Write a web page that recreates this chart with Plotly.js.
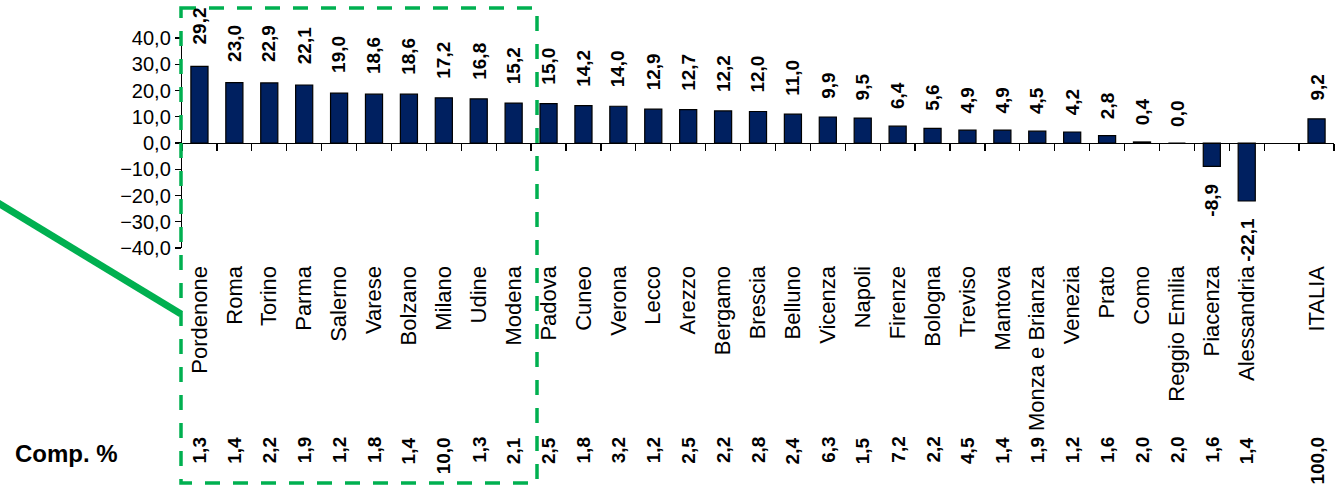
<!DOCTYPE html>
<html>
<head>
<meta charset="utf-8">
<script src="https://cdn.plot.ly/plotly-3.0.1.min.js"></script>
<style>html,body{margin:0;padding:0;background:#fff;}#chart{width:1336px;height:486px;}</style>
</head>
<body>
<div id="chart"></div>
<script>
// ---- data ----
const categories = ["Pordenone","Roma","Torino","Parma","Salerno","Varese","Bolzano","Milano","Udine","Modena",
  "Padova","Cuneo","Verona","Lecco","Arezzo","Bergamo","Brescia","Belluno","Vicenza","Napoli",
  "Firenze","Bologna","Treviso","Mantova","Monza e Brianza","Venezia","Prato","Como","Reggio Emilia","Piacenza",
  "Alessandria"," ","ITALIA"];
const variation = [29.2,23.0,22.9,22.1,19.0,18.6,18.6,17.2,16.8,15.2,
  15.0,14.2,14.0,12.9,12.7,12.2,12.0,11.0,9.9,9.5,
  6.4,5.6,4.9,4.9,4.5,4.2,2.8,0.4,0.0,-8.9,
  -22.1,null,9.2];
const composition = [1.3,1.4,2.2,1.9,1.2,1.8,1.4,10.0,1.3,2.1,
  2.5,1.8,3.2,1.2,2.5,2.2,2.8,2.4,6.3,1.5,
  7.2,2.2,4.5,1.4,1.9,1.2,1.6,2.0,2.0,1.6,
  1.4,null,100.0];
const yTickVals = [-40,-30,-20,-10,0,10,20,30,40];
const compLabel = "Comp. %";

// ---- layout geometry (pixels) ----
const W = 1336, H = 486;
const M = {l:182, r:2, t:38, b:238};
const PW = W - M.l - M.r, PH = H - M.t - M.b;
const px = x => (x - M.l) / PW;
const py = y => 1 - (y - M.t) / PH;
const fmt = v => v.toFixed(1).replace('.', ',');
const FONT = "Liberation Sans, Arial, sans-serif";
const GREEN = "#00b050";

const annotations = [];
categories.forEach((c, i) => {
  const v = variation[i];
  if (v !== null) {
    const neg = v < 0;
    annotations.push({
      x: c, y: v, xref: 'x', yref: 'y',
      text: fmt(v), showarrow: false, textangle: -90,
      xanchor: 'center', yanchor: neg ? 'top' : 'bottom',
      yshift: neg ? -15 : 14 + 0.2 * v,
      font: {family: FONT, size: 19, color: '#000', weight: 'bold'}
    });
  }
  const cp = composition[i];
  if (cp !== null) {
    annotations.push({
      x: c, y: py(435), xref: 'x', yref: 'paper',
      text: fmt(cp), showarrow: false, textangle: -90,
      xanchor: 'center', yanchor: 'top',
      font: {family: FONT, size: 19, color: '#000', weight: 'bold'}
    });
  }
});
annotations.push({
  x: px(13), y: py(453), xref: 'paper', yref: 'paper',
  text: compLabel, showarrow: false, xanchor: 'left', yanchor: 'middle',
  font: {family: FONT, size: 24, color: '#000', weight: 'bold'}
});

const shapes = [
  {type: 'rect', xref: 'paper', yref: 'paper', x0: px(181), x1: px(537), y0: py(8), y1: py(483),
   line: {color: GREEN, width: 3.5, dash: '15px,13px'}, fillcolor: 'rgba(0,0,0,0)', layer: 'above'},
  {type: 'line', xref: 'paper', yref: 'paper', x0: px(-2), y0: py(203), x1: px(181), y1: py(314),
   line: {color: GREEN, width: 7}, layer: 'above'}
];

const trace = {
  type: 'bar', x: categories, y: variation,
  marker: {color: '#002060', line: {color: '#000', width: 1.2}},
  hoverinfo: 'skip', cliponaxis: false
};

const layout = {
  width: W, height: H,
  margin: M,
  paper_bgcolor: '#fff', plot_bgcolor: '#fff',
  showlegend: false,
  bargap: 0.51,
  separators: ',.',
  font: {family: FONT, color: '#000'},
  xaxis: {
    type: 'category', anchor: 'free', position: 0.5,
    showline: true, linecolor: '#000', linewidth: 1.2,
    ticks: 'outside', ticklen: 7, tickwidth: 1.2, tickcolor: '#000', tickson: 'boundaries',
    tickangle: -90, ticklabelstandoff: 113,
    tickfont: {family: FONT, size: 22, color: '#000'},
    showgrid: false, zeroline: false, fixedrange: true
  },
  yaxis: {
    range: [-40, 40], tickvals: yTickVals, tickformat: '.1f',
    showline: true, linecolor: '#000', linewidth: 1.2,
    ticks: 'outside', ticklen: 6, tickwidth: 1.2, tickcolor: '#000',
    tickfont: {family: FONT, size: 20, color: '#000'},
    showgrid: false, zeroline: false, fixedrange: true
  },
  annotations: annotations,
  shapes: shapes
};

Plotly.newPlot('chart', [trace], layout, {displayModeBar: false, staticPlot: true});
</script>
</body>
</html>
